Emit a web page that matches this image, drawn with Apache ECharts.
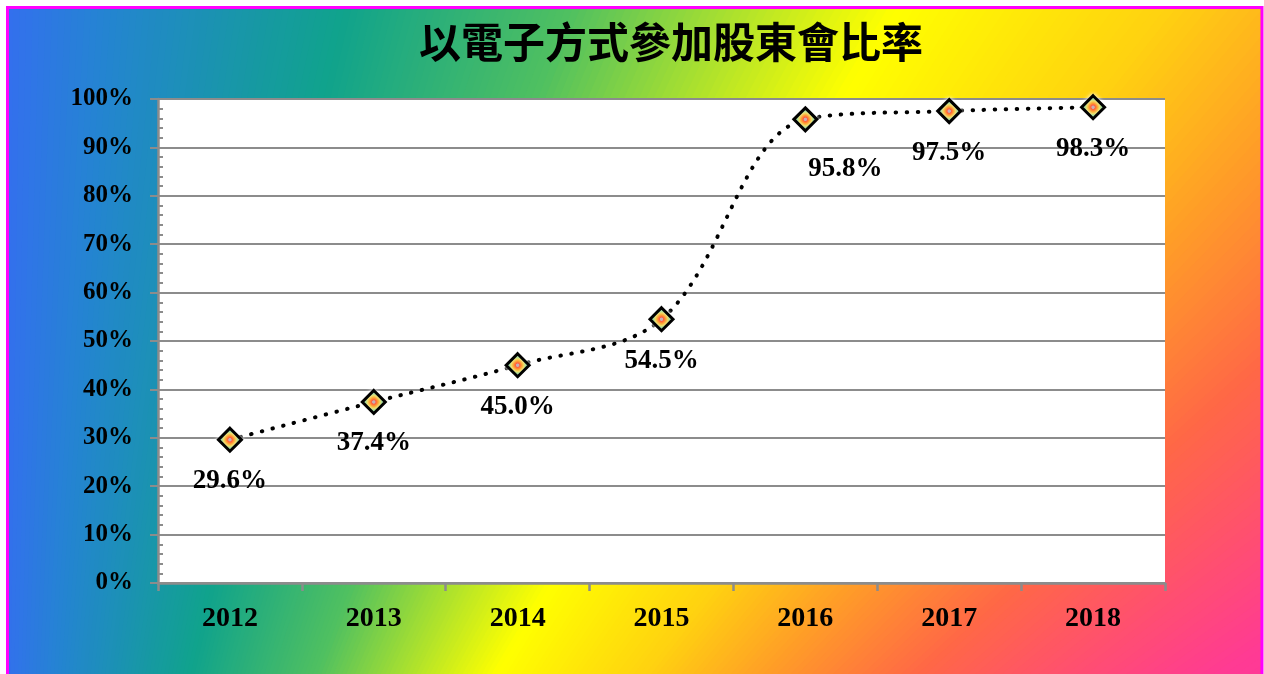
<!DOCTYPE html>
<html><head><meta charset="utf-8">
<script src="https://cdn.jsdelivr.net/npm/echarts@6/dist/echarts.min.js"></script>
<style>html,body{margin:0;padding:0;background:#fff;}#c{width:1264px;height:674px;}</style>
</head><body><div id="c"></div>
<script>
const titleText = '以電子方式參加股東會比率';
const categories = ['2012','2013','2014','2015','2016','2017','2018'];
const values = [29.6, 37.4, 45.0, 54.5, 95.8, 97.5, 98.3];
const yTicks = [0,10,20,30,40,50,60,70,80,90,100];

const chart = echarts.init(document.getElementById('c'), null, {renderer:'canvas'});
const serif = '"Liberation Serif","Times New Roman",serif';
const gray = '#8c8c8c';

// background: angular colour sweep around a point below-left of the chart
const bgCenter = [0, 1500];
const bgStops = [
  [0, [52,110,240]], [4, [36,132,210]], [13, [16,163,140]], [21, [80,192,96]],
  [31, [255,255,0]], [38, [255,210,16]], [43, [255,156,40]], [48, [255,104,70]],
  [56, [255,58,148]], [70, [255,40,170]]
];
function bgColor(a){
  for (let i=0;i<bgStops.length-1;i++){
    const [a0,c0]=bgStops[i],[a1,c1]=bgStops[i+1];
    if (a<=a1){ const t=(a-a0)/(a1-a0); return 'rgb('+c0.map((v,k)=>Math.round(v+(c1[k]-v)*t)).join(',')+')'; }
  }
  const c=bgStops[bgStops.length-1][1]; return 'rgb('+c.join(',')+')';
}
const wedges = [];
const R = 4000, step = 0.25;
for (let a=-5; a<70; a+=step){
  const r0=(a)*Math.PI/180, r1=(a+step+0.15)*Math.PI/180;
  wedges.push({
    type:'polygon', z:-20, silent:true,
    shape:{points:[bgCenter,[bgCenter[0]+R*Math.sin(r0), bgCenter[1]-R*Math.cos(r0)],[bgCenter[0]+R*Math.sin(r1), bgCenter[1]-R*Math.cos(r1)]]},
    style:{fill:bgColor(a+step/2)}
  });
}

const markerGrad = {
  type:'radial', x:0.5, y:0.5, r:0.36,
  colorStops:[
    {offset:0, color:'#c8b0b0'},
    {offset:0.14, color:'#c8b0b0'},
    {offset:0.22, color:'#ff5a40'},
    {offset:0.45, color:'#ff9c20'},
    {offset:0.68, color:'#e8d030'},
    {offset:0.86, color:'#60c040'},
    {offset:1, color:'#18a040'}
  ]
};

const seriesData = values.map((v,i)=>{
  const d = {value:v};
  if (i===4) d.label = {offset:[40,8]};
  return d;
});

chart.setOption({
  animation:false,
  graphic:[].concat(wedges, [
    {type:'rect', z:-19, silent:true, shape:{x:0,y:0,width:1264,height:6}, style:{fill:'#fff'}},
    {type:'rect', z:-19, silent:true, shape:{x:0,y:0,width:6,height:674}, style:{fill:'#fff'}},
    {type:'rect', z:-19, silent:true, shape:{x:1263,y:0,width:10,height:674}, style:{fill:'#fff'}},
    {type:'rect', z:-18, silent:true, shape:{x:7.5, y:7.5, width:1254.5, height:700},
      style:{fill:'none', stroke:'#ff00ff', lineWidth:3}}
  ]),
  title:{
    text:titleText, left:414, top:16,
    textStyle:{fontSize:42, fontWeight:'bold', color:'#000', fontFamily:'"Noto Sans CJK TC",sans-serif'}
  },
  grid:{left:158, right:99, top:99, bottom:91, show:true, backgroundColor:'#fff', borderWidth:0, borderColor:'transparent'},
  xAxis:{
    type:'category', data:categories, boundaryGap:true,
    axisLine:{lineStyle:{color:gray, width:2.5}},
    axisTick:{show:true, length:8, lineStyle:{color:gray, width:2.5}},
    axisLabel:{margin:22, fontSize:28, fontWeight:'bold', color:'#000', fontFamily:serif},
    splitLine:{show:false}
  },
  yAxis:[{
    type:'value', min:0, max:100, interval:10,
    axisLine:{show:true, lineStyle:{color:gray, width:2.5}},
    axisTick:{show:true, length:8, lineStyle:{color:gray, width:2}},
    axisLabel:{margin:25, fontSize:25, fontWeight:'bold', color:'#000', fontFamily:serif, padding:[9,0,0,0],
      formatter:(v)=> yTicks.includes(v) ? v + '%' : ''},
    splitLine:{show:true, lineStyle:{color:gray, width:2}}
  },{
    type:'value', min:0, max:100, interval:10, position:'left', offset:0,
    axisLine:{show:false}, axisLabel:{show:false}, splitLine:{show:false},
    axisTick:{show:true, inside:true, length:5, lineStyle:{color:gray, width:2}},
    minorTick:{show:true, splitNumber:5, length:5, lineStyle:{color:gray, width:2}}
  }],
  series:[{
    type:'line', data:seriesData, yAxisIndex:0,
    smooth:0.35,
    symbol:'diamond', symbolSize:23,
    lineStyle:{color:'#000', width:4, type:[0.5,10.5], cap:'round'},
    itemStyle:{color:markerGrad, borderColor:'#000', borderWidth:3, shadowColor:'#fff', shadowBlur:4},
    label:{show:true, position:'bottom', distance:15, formatter:(p)=>p.value.toFixed(1)+'%',
      fontSize:27, fontWeight:'bold', color:'#000', fontFamily:serif},
    z:5
  }]
});
</script></body></html>
